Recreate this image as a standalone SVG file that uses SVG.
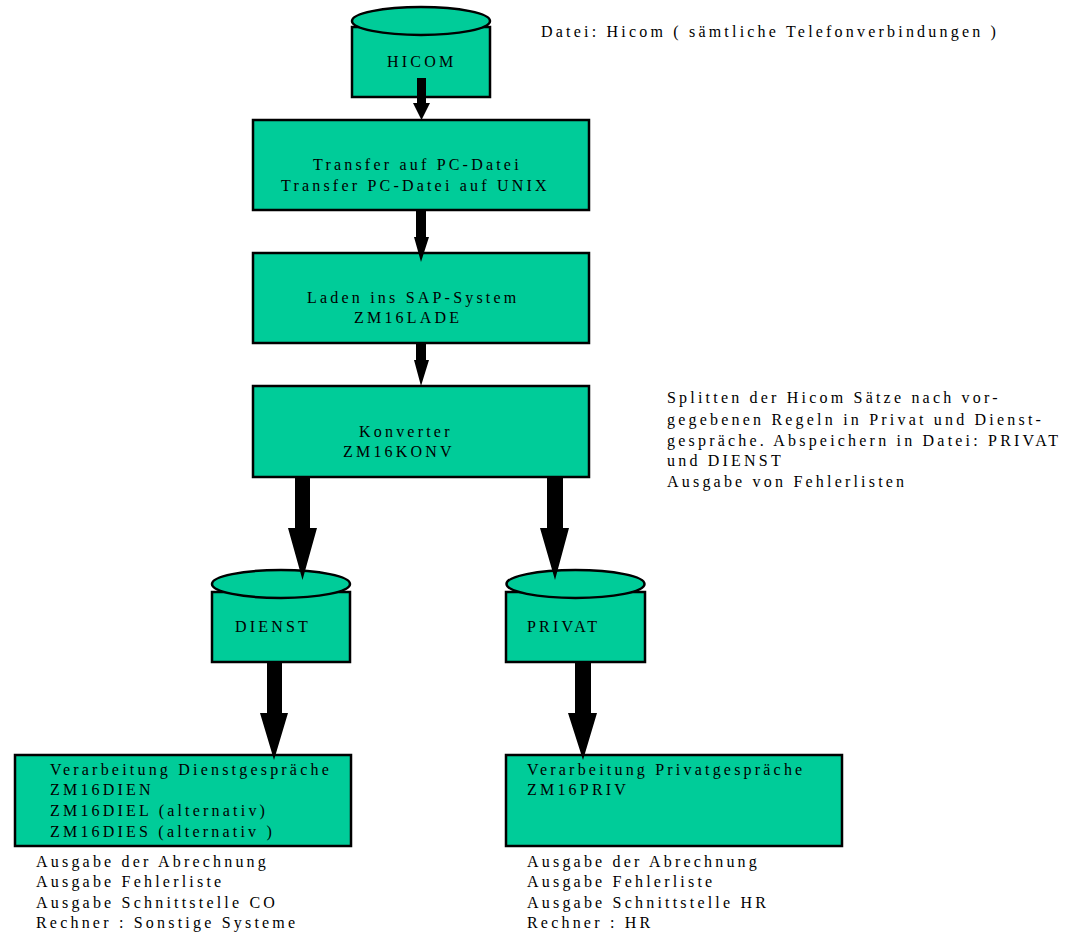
<svg xmlns="http://www.w3.org/2000/svg" width="1071" height="934" viewBox="0 0 1071 934">
<style>
.n{fill:#00CC99;stroke:#000;stroke-width:2.5}
.t{font-family:"Liberation Serif",serif;font-size:16px;letter-spacing:3.2px;fill:#000}
.a{fill:#000;stroke:none}
</style>
<rect width="1071" height="934" fill="#fff"/>
<g id="hicom">
<rect class="n" x="352" y="27" width="138" height="70"/>
<ellipse class="n" cx="421" cy="21" rx="69" ry="14"/>
<text class="t" x="387" y="67">HICOM</text>
</g>
<g id="transfer">
<rect class="n" x="253" y="120" width="336" height="90"/>
<text class="t" x="313" y="170">Transfer auf PC-Datei</text>
<text class="t" x="281" y="191">Transfer PC-Datei auf UNIX</text>
</g>
<g id="laden">
<rect class="n" x="253" y="253" width="336" height="90"/>
<text class="t" x="307" y="303">Laden ins SAP-System</text>
<text class="t" x="354" y="323">ZM16LADE</text>
</g>
<g id="konverter">
<rect class="n" x="253" y="386" width="336" height="91"/>
<text class="t" x="359" y="437">Konverter</text>
<text class="t" x="343" y="457">ZM16KONV</text>
</g>
<g id="dienst">
<rect class="n" x="212" y="592" width="138" height="70"/>
<ellipse class="n" cx="281" cy="584" rx="69" ry="14"/>
<text class="t" x="235" y="632">DIENST</text>
</g>
<g id="privat">
<rect class="n" x="506" y="592" width="139" height="70"/>
<ellipse class="n" cx="575.5" cy="584" rx="69" ry="14"/>
<text class="t" x="527" y="632">PRIVAT</text>
</g>
<g id="verarbeitung-dienst">
<rect class="n" x="15" y="755" width="336" height="91"/>
<text class="t" x="50" y="775">Verarbeitung Dienstgespräche</text>
<text class="t" x="50" y="795">ZM16DIEN</text>
<text class="t" x="50" y="816">ZM16DIEL (alternativ)</text>
<text class="t" x="50" y="837">ZM16DIES (alternativ )</text>
</g>
<g id="verarbeitung-privat">
<rect class="n" x="506" y="755" width="336" height="91"/>
<text class="t" x="527" y="775">Verarbeitung Privatgespräche</text>
<text class="t" x="527" y="795">ZM16PRIV</text>
</g>
<g id="connectors">
<polygon class="a" points="417,78 426,78 426,103 430,103 421.5,120 413,103 417,103"/>
<polygon class="a" points="416,210 426,210 426,237 429,237 421,262 414,237 416,237"/>
<polygon class="a" points="416,343 426,343 426,360 429,360 421,386 414,360 416,360"/>
<polygon class="a" points="295,477 310,477 310,528 317,528 302.5,580 288,528 295,528"/>
<polygon class="a" points="547,477 563,477 563,528 569,528 555,580 540,528 547,528"/>
<polygon class="a" points="267,662 282,662 282,713 288,713 274,760 260,713 267,713"/>
<polygon class="a" points="575,662 591,662 591,713 597,713 583,760 568,713 575,713"/>
</g>
<g id="notes">
<text class="t" x="541" y="37">Datei: Hicom ( sämtliche Telefonverbindungen )</text>
<text class="t" x="667" y="403">Splitten der Hicom Sätze nach vor-</text>
<text class="t" x="667" y="425">gegebenen Regeln in Privat und Dienst-</text>
<text class="t" x="667" y="446">gespräche. Abspeichern in Datei: PRIVAT</text>
<text class="t" x="667" y="466">und DIENST</text>
<text class="t" x="667" y="487">Ausgabe von Fehlerlisten</text>
<text class="t" x="36" y="867">Ausgabe der Abrechnung</text>
<text class="t" x="36" y="887">Ausgabe Fehlerliste</text>
<text class="t" x="36" y="908">Ausgabe Schnittstelle CO</text>
<text class="t" x="36" y="928">Rechner : Sonstige Systeme</text>
<text class="t" x="527" y="867">Ausgabe der Abrechnung</text>
<text class="t" x="527" y="887">Ausgabe Fehlerliste</text>
<text class="t" x="527" y="908">Ausgabe Schnittstelle HR</text>
<text class="t" x="527" y="928">Rechner : HR</text>
</g>
</svg>
